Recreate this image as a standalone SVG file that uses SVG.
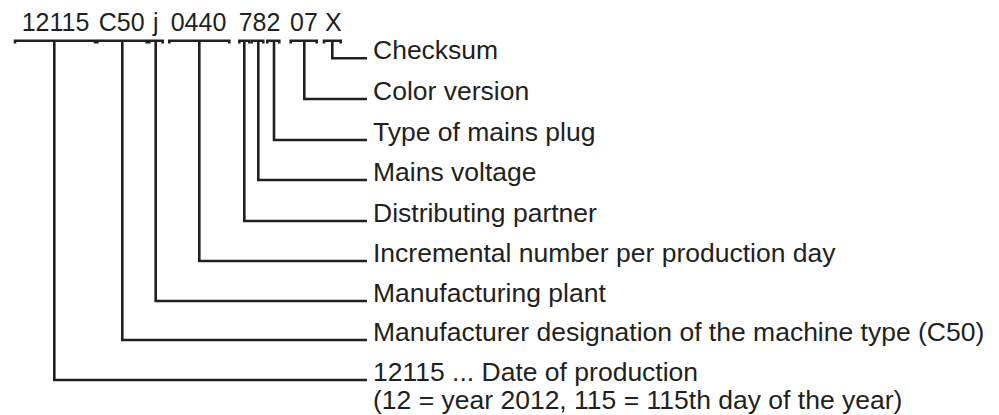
<svg xmlns="http://www.w3.org/2000/svg" width="999" height="415" viewBox="0 0 999 415">
<style>
.t{font-family:"Liberation Sans",Arial,sans-serif;fill:#231f20}
.code{font-size:25px;text-anchor:middle}
.lbl{font-size:26.5px}
.c{fill:none;stroke:#231f20;stroke-width:2.6;stroke-linejoin:miter;stroke-linecap:butt}
</style>
<rect width="999" height="415" fill="#fff"/>
<g id="code">
<text class="t code" y="30.7"><tspan x="55.5">12115</tspan><tspan x="121.7">C50</tspan><tspan x="155.7">j</tspan><tspan x="198.5">0440</tspan><tspan x="259.5">782</tspan><tspan x="304">07</tspan><tspan x="333.3">X</tspan></text>
</g>
<g id="connectors">
<path class="c" d="M15 43.5V40.7H95V43.5M54.3 40.7V380H367"/>
<path class="c" d="M97.3 43.5V40.7H146.7V43.5M122.3 40.7V340H367"/>
<path class="c" d="M149.3 43.5V40.7H162.7V43.5M155.7 40.7V301H367"/>
<path class="c" d="M169.3 43.5V40.7H229.3V43.5M199.3 40.7V261H367"/>
<path class="c" d="M239.3 43.5V40.7H249.3V43.5M244.3 40.7V221H367"/>
<path class="c" d="M251.7 43.5V40.7H263.3V43.5M258.3 40.7V180H367"/>
<path class="c" d="M267.3 43.5V40.7H279.3V43.5M274 40.7V140H367"/>
<path class="c" d="M290.7 43.5V40.7H316.7V43.5M304.3 40.7V99H367"/>
<path class="c" d="M324 43.5V40.7H340.7V43.5M332.3 40.7V58.3H367"/>
</g>
<g id="checksum"><text class="t lbl" x="373" y="59">Checksum</text></g>
<g id="color"><text class="t lbl" x="373" y="99.5">Color version</text></g>
<g id="plug"><text class="t lbl" x="373" y="140.5">Type of mains plug</text></g>
<g id="voltage"><text class="t lbl" x="373" y="180.5">Mains voltage</text></g>
<g id="partner"><text class="t lbl" x="373" y="221.5">Distributing partner</text></g>
<g id="incremental"><text class="t lbl" x="373" y="261.5">Incremental number per production day</text></g>
<g id="plant"><text class="t lbl" x="373" y="301.5">Manufacturing plant</text></g>
<g id="machine"><text class="t lbl" x="373" y="340.5">Manufacturer designation of the machine type (C50)</text></g>
<g id="date"><text class="t lbl" x="373" y="380.5">12115 ... Date of production<tspan x="373" y="409">(12 = year 2012, 115 = 115th day of the year)</tspan></text></g>
</svg>
